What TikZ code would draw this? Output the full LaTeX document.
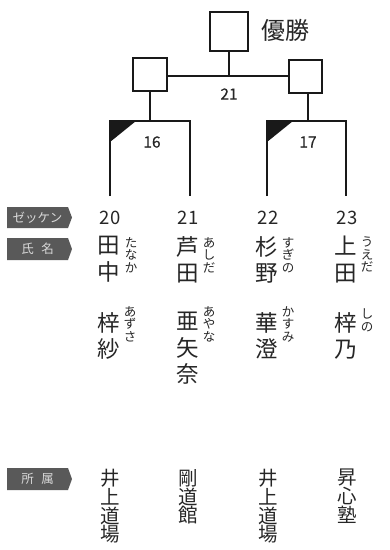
\documentclass[tikz,border=0pt]{standalone}
\usepackage{fontspec}
\setmainfont{Noto Sans CJK JP}
\newfontfamily\medfont[FakeBold=0.5]{Noto Sans CJK JP}
\begin{document}
\begin{tikzpicture}[x=1pt,y=-1pt,
  ln/.style={line width=1.3pt,draw=black!90},
  sq/.style={ln,fill=white},
  tri/.style={fill=black!90},
  txt/.style={text=black!85,inner sep=0pt},
  num/.style={txt,font=\medfont\fontsize{15.5}{15.5}\selectfont},
  big/.style={txt,font=\fontsize{24}{24}\selectfont},
  entry/.style={txt,font=\fontsize{18.5}{18.5}\selectfont},
  kanji/.style={txt,align=center,anchor=north,font=\fontsize{22.5}{26.5}\selectfont},
  ruby/.style={txt,align=center,anchor=north,font=\fontsize{12.5}{12.5}\selectfont},
  team/.style={txt,align=center,anchor=north,font=\fontsize{19.5}{18.8}\selectfont},
  tag/.style={fill=black!65,draw=none},
  tagtxt/.style={inner sep=0pt,text=black!15,font=\fontsize{12.5}{12.5}\selectfont}
]
\useasboundingbox (0,0) rectangle (390,550);

% boxes
\draw[sq] (210,12) rectangle (248,51);
\coordinate (topS) at (229,51);
\draw[sq] (133,58) rectangle (167,91);
\coordinate (lE) at (167,76);
\coordinate (lS) at (150,91);
\draw[sq] (289,60) rectangle (322,93);
\coordinate (rW) at (289,76);
\coordinate (rS) at (308,93);
\coordinate (mid) at (229,76);
\node[big,anchor=west] (win) at (261,30) {優勝};

\draw[ln] (topS) -- (mid);
\draw[ln] (lE) -- (rW);
\node[num] (m21) at (229,94) {21};

% left bracket
\coordinate (lj) at (150,121);
\coordinate (la) at (110,121);
\coordinate (lb) at (190,121);
\coordinate (la2) at (110,196);
\coordinate (lb2) at (190,196);
\draw[ln] (lS) -- (lj);
\fill[tri] (la) -- ++(26,0) -- ++(-26,21) -- cycle;
\draw[ln] (la2) -- (la) -- (lb) -- (lb2);
\node[num] (m16) at (152,142) {16};

% right bracket
\coordinate (rj) at (308,121);
\coordinate (ra) at (267,121);
\coordinate (rb) at (346,121);
\coordinate (ra2) at (267,196);
\coordinate (rb2) at (346,196);
\draw[ln] (rS) -- (rj);
\fill[tri] (ra) -- ++(26,0) -- ++(-26,21) -- cycle;
\draw[ln] (ra2) -- (ra) -- (rb) -- (rb2);
\node[num] (m17) at (308,142) {17};

% tags
\fill[tag] (7,207) -- (68,207) -- (72,217.5) -- (68,228) -- (7,228) -- cycle;
\node[tagtxt] (t1) at (37.5,217.5) {ゼッケン};
\fill[tag] (7,238) -- (68,238) -- (72,249) -- (68,260) -- (7,260) -- cycle;
\node[tagtxt] (t2) at (37.5,249) {氏\hspace{0.6em}名};
\fill[tag] (7,468) -- (68,468) -- (72,479) -- (68,490) -- (7,490) -- cycle;
\node[tagtxt] (t3) at (37.5,479) {所\hspace{0.6em}属};

% numbers
\node[entry] (n20) at (110,218) {20};
\node[entry] (n21) at (188,218) {21};
\node[entry] (n22) at (268,218) {22};
\node[entry] (n23) at (347,218) {23};

% family names
\node[kanji] (f1) at (109,236) {田\\中};
\node[ruby] (fr1) at (131,237) {た\\な\\か};
\node[kanji] (f2) at (188,236) {芦\\田};
\node[ruby] (fr2) at (209,237) {あ\\し\\だ};
\node[kanji] (f3) at (267,236) {杉\\野};
\node[ruby] (fr3) at (288,237) {す\\ぎ\\の};
\node[kanji] (f4) at (346,236) {上\\田};
\node[ruby] (fr4) at (367,237) {う\\え\\だ};

% given names
\node[kanji] (g1) at (109,312) {梓\\紗};
\node[ruby] (gr1) at (130,306) {あ\\ず\\さ};
\node[kanji] (g2) at (188,312) {亜\\矢\\奈};
\node[ruby] (gr2) at (209,306) {あ\\や\\な};
\node[kanji] (g3) at (267,312) {華\\澄};
\node[ruby] (gr3) at (288,306) {か\\す\\み};
\node[kanji] (g4) at (346,312) {梓\\乃};
\node[ruby] (gr4) at (367,309) {し\\の};

% affiliations
\node[team] (a1) at (110,469) {井\\上\\道\\場};
\node[team] (a2) at (188,469) {剛\\道\\館};
\node[team] (a3) at (268,469) {井\\上\\道\\場};
\node[team] (a4) at (347,469) {昇\\心\\塾};
\end{tikzpicture}
\end{document}
